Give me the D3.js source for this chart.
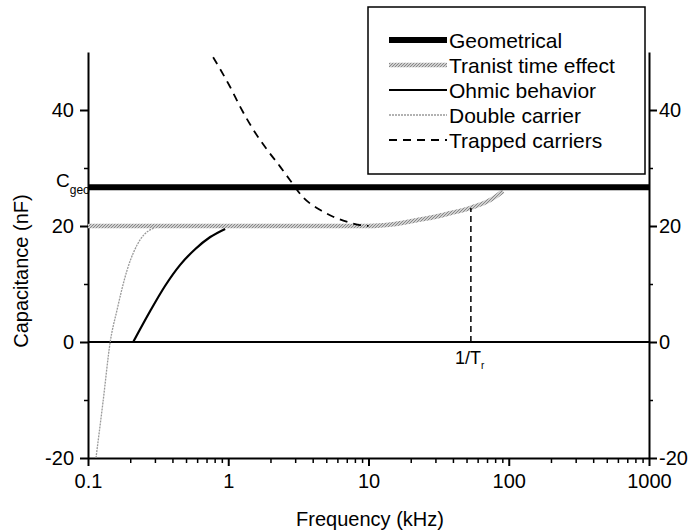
<!DOCTYPE html>
<html>
<head>
<meta charset="utf-8">
<script src="https://cdn.jsdelivr.net/npm/d3@7"></script>
<style>
  body { margin: 0; background: #fff; }
  svg text { font-family: "Liberation Sans", Arial, sans-serif; fill: #000; }
</style>
</head>
<body>
<svg id="chart" width="697" height="532"></svg>
<script>
// tick labels
const xTicks = [0.1, 1, 10, 100, 1000];
const yTicks = [-20, 0, 20, 40];
const yMinor = [-10, 10, 30];

// series (frequency in kHz, capacitance in nF)
const geoFreq = [0.1, 1000];
const geoCap = [26.7, 26.7];

const transitFreq = [0.1, 1, 10, 15, 22, 30, 38, 53, 74, 91];
const transitCap = [20, 20, 20, 20.3, 21, 21.6, 22.2, 23.1, 24.5, 26.0];

const ohmicFreq = [0.21, 0.277, 0.355, 0.454, 0.58, 0.744, 0.95];
const ohmicCap = [0, 5.3, 9.7, 13.3, 16.0, 18.1, 19.5];

const doubleFreq = [0.114, 0.128, 0.144, 0.161, 0.19, 0.235, 0.306];
const doubleCap = [-20, -10.3, 0, 5.5, 12.4, 17.6, 19.8];

const trappedFreq = [0.78, 1.03, 1.22, 1.51, 1.9, 2.35, 2.76, 3.4, 4.5, 5.6, 7.1, 8.5, 10];
const trappedCap = [49.1, 44, 40.5, 36.6, 33.1, 30.2, 27.9, 25, 22.8, 21.6, 20.7, 20.2, 20];

const zeroFreq = [0.1, 1000];
const zeroCap = [0, 0];

const trFreq = [53.7, 53.7];
const trCap = [0, 23.1];

const legendNames = ["Geometrical", "Tranist time effect", "Ohmic behavior", "Double carrier", "Trapped carriers"];

function main() {
    const svg = d3.select("#chart");
    const left = 88, right = 649, top = 52, bottom = 458;

    const x = d3.scaleLog().domain([0.1, 1000]).range([left, right]);
    const y = d3.scaleLinear().domain([-20, 50]).range([bottom, top]);

    // hatch pattern for the transit-time stroke
    const defs = svg.append("defs");
    const pat = defs.append("pattern")
        .attr("id", "hatch")
        .attr("patternUnits", "userSpaceOnUse")
        .attr("width", 3).attr("height", 3);
    pat.append("rect").attr("width", 3).attr("height", 3).attr("fill", "#d0d0d0");
    pat.append("path").attr("d", "M0,3 L3,0").attr("stroke", "#888").attr("stroke-width", 1);

    const styles = [
        { stroke: "#000", width: 6, dash: null },
        { stroke: "url(#hatch)", width: 4.5, dash: null },
        { stroke: "#000", width: 2.2, dash: null },
        { stroke: "#999", width: 1.3, dash: "2,1" },
        { stroke: "#000", width: 1.8, dash: "8,6" }
    ];

    const line = d3.line()
        .x(d => x(d[0]))
        .y(d => y(d[1]))
        .curve(d3.curveMonotoneX);

    function drawSeries(fs, cs, st) {
        svg.append("path")
            .datum(fs.map((f, i) => [f, cs[i]]))
            .attr("d", line)
            .attr("fill", "none")
            .attr("stroke", st.stroke)
            .attr("stroke-width", st.width)
            .attr("stroke-dasharray", st.dash);
    }

    // axes
    const minor = x.ticks().filter(t => !xTicks.includes(t));
    svg.append("g").attr("transform", `translate(0,${bottom})`)
        .call(d3.axisBottom(x).tickValues(minor).tickSize(5).tickFormat(""))
        .call(g => g.select(".domain").remove())
        .selectAll("line").attr("stroke-width", 1.5);
    const xa = svg.append("g").attr("transform", `translate(0,${bottom})`)
        .call(d3.axisBottom(x).tickValues(xTicks).tickSize(8).tickSizeOuter(0).tickPadding(8)
            .tickFormat(d => String(d)));
    xa.select(".domain").attr("stroke-width", 2);
    xa.selectAll("line").attr("stroke-width", 2);
    xa.selectAll("text").attr("font-size", 20).attr("font-family", null);

    function yAxis(axisFn, xpos, pad) {
        svg.append("g").attr("transform", `translate(${xpos},0)`)
            .call(axisFn(y).tickValues(yMinor).tickSize(4).tickFormat(""))
            .call(g => g.select(".domain").remove())
            .selectAll("line").attr("stroke-width", 1.5);
        const ga = svg.append("g").attr("transform", `translate(${xpos},0)`)
            .call(axisFn(y).tickValues(yTicks).tickSize(8).tickSizeOuter(0).tickPadding(pad)
                .tickFormat(d => String(d)));
        ga.select(".domain").attr("stroke-width", 2);
        ga.selectAll("line").attr("stroke-width", 2);
        ga.selectAll("text").attr("font-size", 20).attr("font-family", null);
    }
    yAxis(d3.axisLeft, left, 6);
    yAxis(d3.axisRight, right, 2);

    // zero reference line
    drawSeries(zeroFreq, zeroCap, { stroke: "#000", width: 2, dash: null });

    // curves
    drawSeries(doubleFreq, doubleCap, styles[3]);
    drawSeries(transitFreq, transitCap, styles[1]);
    drawSeries(ohmicFreq, ohmicCap, styles[2]);
    drawSeries(trappedFreq, trappedCap, styles[4]);
    drawSeries(geoFreq, geoCap, styles[0]);
    drawSeries(trFreq, trCap, { stroke: "#000", width: 1.5, dash: "6,4" });

    // annotations
    const cg = svg.append("text").attr("x", 56).attr("y", 187).attr("font-size", 19);
    cg.append("tspan").text("C");
    cg.append("tspan").attr("font-size", 12).attr("dy", 7).text("geo");

    const tr = svg.append("text").attr("x", x(trFreq[0]) - 16).attr("y", 364).attr("font-size", 18);
    tr.append("tspan").text("1/T");
    tr.append("tspan").attr("font-size", 10).attr("dy", 5).text("r");

    // axis titles
    svg.append("text")
        .attr("x", 370).attr("y", 526)
        .attr("text-anchor", "middle")
        .attr("font-size", 20)
        .text("Frequency (kHz)");
    svg.append("text")
        .attr("transform", "translate(28,271) rotate(-90)")
        .attr("text-anchor", "middle")
        .attr("font-size", 20)
        .text("Capacitance (nF)");

    // legend
    const lg = svg.append("g");
    lg.append("rect")
        .attr("x", 368).attr("y", 7)
        .attr("width", 277).attr("height", 167)
        .attr("fill", "#fff").attr("stroke", "#000").attr("stroke-width", 1.5);
    legendNames.forEach((name, i) => {
        const ly = 40 + i * 25;
        lg.append("line")
            .attr("x1", 389).attr("x2", 447)
            .attr("y1", ly).attr("y2", ly)
            .attr("stroke", styles[i].stroke)
            .attr("stroke-width", styles[i].width)
            .attr("stroke-dasharray", styles[i].dash);
        lg.append("text")
            .attr("x", 449).attr("y", ly).attr("dy", "0.36em")
            .attr("font-size", 21)
            .text(name);
    });
}

main()
</script>
</body>
</html>
